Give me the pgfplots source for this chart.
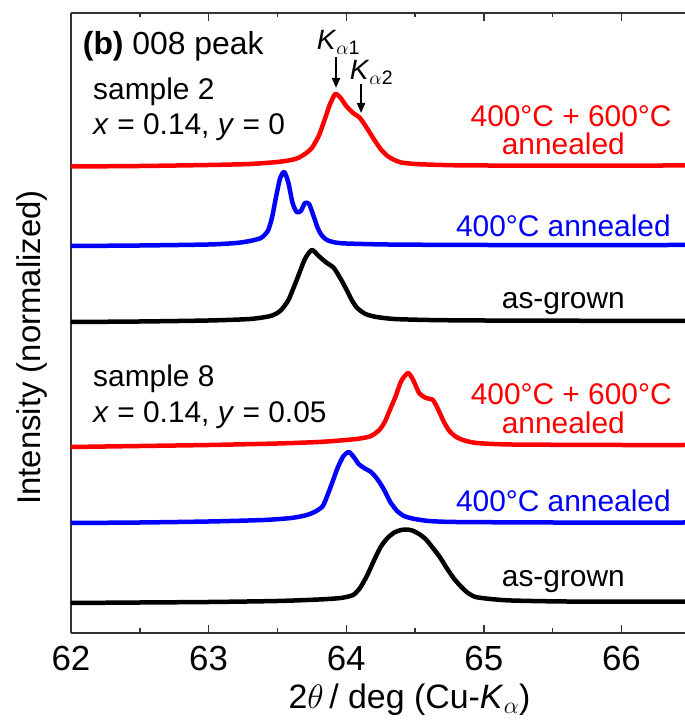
\RequirePackage{fix-cm}
\documentclass[border=0pt]{standalone}
\usepackage{fontspec}
\setmainfont{Liberation Sans}
\usepackage{pgfplots}
\pgfplotsset{compat=1.18}
\usetikzlibrary{arrows.meta}
\tikzset{lab/.style={font=\fontsize{30}{30}\selectfont, inner sep=0pt}}
\begin{document}
\begin{tikzpicture}[x=1bp,y=1bp]
\begin{axis}[
  at={(0,0)}, anchor=south west,
  scale only axis, width=614bp, height=620bp,
  xmin=62, xmax=66.462, ymin=0, ymax=620,
  axis x line*=box, axis y line*=left,
  xtick={62,63,64,65,66},
  minor xtick={62.5,63.5,64.5,65.5},
  xtick pos=both, xticklabel pos=lower,
  tick align=inside,
  major tick length=8bp, minor tick length=4.5bp,
  ytick=\empty,
  tick style={line width=1.4bp, black!80},
  axis line style={line width=1.5bp, black!80},
  /pgf/number format/assume math mode=true,
  xticklabel style={font=\fontsize{35}{35}\selectfont, anchor=base, yshift=-37bp, inner sep=0pt},
  xlabel={2$\theta$\,/ deg (Cu-\textit{K}$_{\alpha}$)},
  xlabel style={at={(axis description cs:0.5513,-0.1215)}, anchor=base, font=\fontsize{34}{34}\selectfont, inner sep=0pt},
  ylabel={Intensity (normalized)},
  ylabel style={at={(axis description cs:-0.0493,0.4605)}, anchor=base, font=\fontsize{33}{33}\selectfont, inner sep=0pt},
  every axis plot/.append style={line width=4.5bp, smooth, tension=0.4, line join=round, line cap=round},
]
% sample 2, 400+600 annealed
\addplot[red] coordinates {
(62.0,466.5) (62.5,467) (63.0,468) (63.3,469) (63.5,471) (63.6,473) (63.65,475)
(63.7,479) (63.75,485) (63.8,497) (63.84,512) (63.88,528) (63.92,539) (63.96,535)
(64.0,527) (64.05,520) (64.10,515) (64.15,505) (64.2,494) (64.25,484) (64.3,477)
(64.35,473) (64.4,470.5) (64.5,469) (64.7,468) (65.0,467.5) (66.462,467.5)};
% sample 2, 400 annealed
\addplot[blue] coordinates {
(62.0,387) (62.5,387.5) (63.0,388.5) (63.2,390) (63.3,392) (63.38,395) (63.43,402)
(63.46,415) (63.49,436) (63.52,455) (63.55,461) (63.58,450) (63.61,430) (63.64,421)
(63.67,422) (63.70,430) (63.73,429) (63.76,418) (63.79,406) (63.82,398) (63.86,393)
(63.92,390.5) (64.0,389.5) (64.3,388.5) (65.0,388) (66.462,388)};
% sample 2, as-grown
\addplot[black] coordinates {
(62.0,311) (62.5,311.5) (63.0,312.5) (63.3,314) (63.45,317) (63.52,322) (63.58,333)
(63.64,353) (63.70,374) (63.75,383) (63.80,377) (63.85,371) (63.91,365) (63.96,354)
(64.0,344) (64.04,333) (64.08,325) (64.14,319) (64.22,316) (64.35,314) (64.6,313)
(65.0,312.5) (66.462,312)};
% sample 8, 400+600 annealed
\addplot[red] coordinates {
(62.0,186) (62.5,187) (63.0,188) (63.5,189.5) (63.8,191) (64.0,193) (64.1,194.5)
(64.18,197) (64.24,203) (64.28,211) (64.32,224) (64.36,237) (64.40,252) (64.45,260)
(64.49,252) (64.53,240) (64.58,235) (64.63,233) (64.67,223) (64.71,211) (64.75,202)
(64.80,196) (64.86,192.5) (64.95,190) (65.2,188.5) (66.0,188) (66.462,188)};
% sample 8, 400 annealed
\addplot[blue] coordinates {
(62.0,110) (62.5,110.5) (63.0,111.5) (63.4,113) (63.6,115) (63.7,117.5) (63.77,121)
(63.83,127) (63.87,140) (63.90,151) (63.94,166) (63.98,177) (64.02,181) (64.06,175)
(64.09,169) (64.13,165) (64.18,161) (64.22,155) (64.25,149) (64.28,142) (64.32,131)
(64.37,122) (64.42,117) (64.48,114.5) (64.6,112) (64.8,111) (65.5,110.5) (66.462,110.5)};
% sample 8, as-grown
\addplot[black] coordinates {
(62.0,30) (62.5,30.5) (63.0,31) (63.5,32) (63.8,33.5) (63.96,35) (64.05,38)
(64.10,45) (64.15,57) (64.20,72) (64.25,86) (64.30,95) (64.35,100.5) (64.40,103)
(64.44,103.5) (64.48,102.5) (64.53,99) (64.58,93.5) (64.63,85) (64.68,76) (64.73,65)
(64.78,55) (64.83,47) (64.88,40.5) (64.94,36) (65.05,34) (65.2,32.5) (65.6,31.5) (66.462,31.3)};

% annotations
\node[font=\fontsize{32}{32}\selectfont, inner sep=0pt, anchor=base west] at (axis cs:62.085,578) {\textbf{(b)} 008 peak};
\node[lab, anchor=base west] at (axis cs:62.16,533) {sample 2};
\node[lab, anchor=base west] at (axis cs:62.16,498.5) {\textit{x} = 0.14, \textit{y} = 0};
\node[lab, anchor=base west] at (axis cs:62.16,246) {sample 8};
\node[lab, anchor=base west] at (axis cs:62.16,210.3) {\textit{x} = 0.14, \textit{y} = 0.05};

\node[font=\fontsize{28}{28}\selectfont, inner sep=0pt, anchor=base west] at (axis cs:63.785,583) {\textit{K}\textsubscript{$\alpha$1}};
\node[font=\fontsize{28}{28}\selectfont, inner sep=0pt, anchor=base west] at (axis cs:64.025,553) {\textit{K}\textsubscript{$\alpha$2}};
\draw[line width=2bp, -{Triangle[length=10bp,width=8bp]}] (axis cs:63.926,576) -- (axis cs:63.926,545);
\draw[line width=2bp, -{Triangle[length=10bp,width=8bp]}] (axis cs:64.108,549) -- (axis cs:64.108,520);

\node[lab, red, anchor=base] at (axis cs:65.634,506.3) {400°C + 600°C};
\node[lab, red, anchor=base] at (axis cs:65.578,478) {annealed};
\node[lab, blue, anchor=base] at (axis cs:65.578,396.3) {400°C annealed};
\node[lab, black, anchor=base] at (axis cs:65.578,324.7) {as-grown};

\node[lab, red, anchor=base] at (axis cs:65.635,228) {400°C + 600°C};
\node[lab, red, anchor=base] at (axis cs:65.578,199.7) {annealed};
\node[lab, blue, anchor=base] at (axis cs:65.578,121.3) {400°C annealed};
\node[lab, black, anchor=base] at (axis cs:65.578,47) {as-grown};
\end{axis}
\pgfresetboundingbox
\useasboundingbox (-71,-89) rectangle (614,633);
\end{tikzpicture}
\end{document}
